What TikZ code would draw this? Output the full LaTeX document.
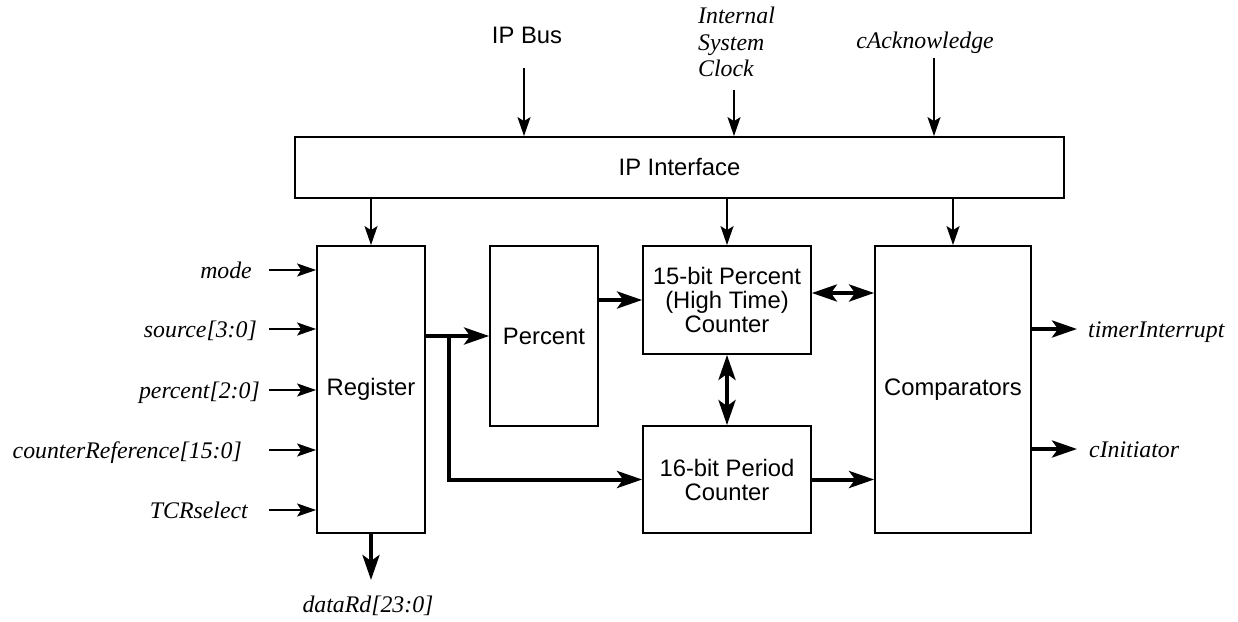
\documentclass[tikz,border=0pt]{standalone}
\usepackage{fontspec}
\setmainfont{Liberation Sans}
\newfontfamily\sigfont{Liberation Serif}
\usetikzlibrary{arrows.meta,positioning,calc}
\tikzset{
  blk/.style={draw, line width=1.8pt, inner sep=0pt, align=center,
    font=\fontsize{23.8}{24}\selectfont},
  txt/.style={inner sep=0pt, font=\fontsize{23.8}{24}\selectfont},
  sig/.style={inner sep=0pt, align=left, font=\sigfont\itshape\fontsize{23.8}{26.5}\selectfont},
  wire/.style={-{Stealth[length=19pt, width=13pt, inset=4pt]}, line width=1.6pt},
  busw/.style={-{Stealth[length=25pt, width=17pt, inset=6pt]}, line width=4pt},
  dbus/.style={{Stealth[length=25pt, width=17pt, inset=6pt]}-{Stealth[length=25pt, width=17pt, inset=6pt]}, line width=4pt},
}

\begin{document}
\begin{tikzpicture}[x=1pt, y=-1pt]
  \useasboundingbox (0,0) rectangle (1238,621);
  % blocks
  \node[blk, minimum width=769pt, minimum height=61pt] (ipif) at (679.5,167.5) {IP Interface};
  \node[blk, minimum width=108pt, minimum height=287pt] (reg) at (371,389.5) {Register};
  \node[blk, minimum width=108pt, minimum height=180pt] (pct) at (544,336) {Percent};
  \node[blk, minimum width=168pt, minimum height=108pt] (cnt15) at (727,300) {15-bit Percent\\(High Time)\\Counter};
  \node[blk, minimum width=168pt, minimum height=107pt] (cnt16) at (727,479.5) {16-bit Period\\Counter};
  \node[blk, minimum width=156pt, minimum height=287pt] (cmp) at (953,389.5) {Comparators};
  % top inputs
  \node[txt, anchor=base] (busl) at (527,43) {IP Bus};
  \node[sig, anchor=north west] (clkl) at (698,7) {Internal\\System\\Clock};
  \node[sig, anchor=base] (ackl) at (925,48) {cAcknowledge};
  \coordinate (bus) at (524,68);
  \coordinate (clk) at (734,90);
  \coordinate (ack) at (934,58);
  \draw[wire] (bus) -- (bus |- ipif.north);
  \draw[wire] (clk) -- (clk |- ipif.north);
  \draw[wire] (ack) -- (ack |- ipif.north);
  \draw[wire] (reg.north |- ipif.south) -- (reg.north);
  \draw[wire] (cnt15.north |- ipif.south) -- (cnt15.north);
  \draw[wire] (cmp.north |- ipif.south) -- (cmp.north);
  % register inputs
  \foreach \nm/\yy/\xr/\lbl in {mode/270/252/mode, src/329/257/{source[3:0]},
      pcin/390/260/{percent[2:0]}, cref/450/242/{counterReference[15:0]}, tcr/510/248/TCRselect}{
    \node[sig, anchor=base east] (\nm l) at (\xr,\yy+8) {\lbl};
    \coordinate (\nm) at (269,\yy);
    \draw[wire] (\nm) -- (\nm -| reg.west);
  }
  % data paths
  \node[sig, anchor=base] (datal) at (368,612) {dataRd[23:0]};
  \coordinate (dout) at (371,580);
  \draw[busw] (reg.south) -- (dout);
  \coordinate (br) at (449,337);
  \draw[busw] (reg.east |- pct.west) -- (pct.west);
  \draw[busw] (br) |- (cnt16.west);
  \draw[busw] (pct.east |- cnt15.west) -- (cnt15.west);
  \draw[dbus] (cnt15.south) -- (cnt16.north);
  \draw[dbus] ([yshift=7pt]cnt15.east) -- ([yshift=7pt]cnt15.east -| cmp.west);
  \draw[busw] (cnt16.east) -- (cnt16.east -| cmp.west);
  % outputs
  \node[sig, anchor=base west] (tirq) at (1088,337) {timerInterrupt};
  \node[sig, anchor=base west] (cini) at (1089,457) {cInitiator};
  \draw[busw] (cmp.east |- 0,329) -- (1077,329);
  \draw[busw] (cmp.east |- 0,449) -- (1077,449);
\end{tikzpicture}
\end{document}
